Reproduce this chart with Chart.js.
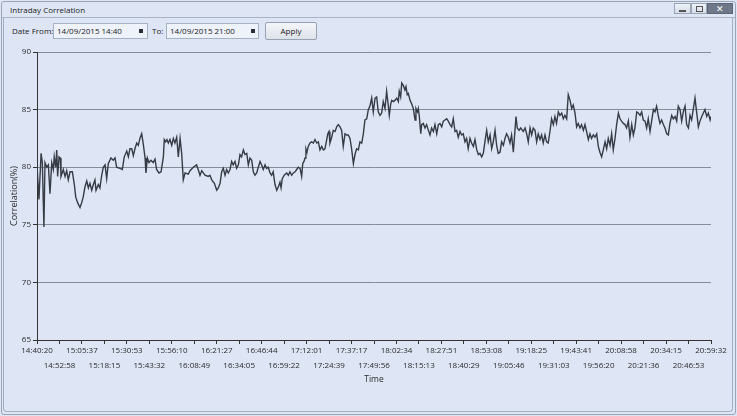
<!DOCTYPE html>
<html><head><meta charset="utf-8">
<script src="https://cdn.jsdelivr.net/npm/chart.js@4.4.1/dist/chart.umd.min.js"></script>
<style>
html,body{margin:0;padding:0;}
body{width:737px;height:416px;position:relative;overflow:hidden;background:#dee6f6;font-family:"Open Sans",sans-serif;color:#222;font-size:8px;}
.a{position:absolute;box-sizing:border-box;}
#outer{left:1px;top:1px;width:735px;height:414px;border:1px solid #9aa5b6;border-radius:3px;}
#sep{left:2px;top:17px;width:733px;height:1px;background:#a9b4c6;}
#inner{left:3px;top:18px;width:730px;height:394px;border:1px solid #a3aec0;border-top:none;border-radius:0 0 4px 4px;}
.lbl{white-space:nowrap;line-height:10px;}
.inp{background:#edf2fb;border:1px solid #a6b1c3;height:16px;}
.sq{width:4px;height:4px;background:#2a2f38;}
#apply{left:265px;top:22px;width:52px;height:18px;border:1px solid #98a3b4;border-radius:2px;background:linear-gradient(#f4f6f9,#dde2ea);text-align:center;line-height:16px;}
.wb{top:3px;height:11px;border:1px solid #9aa5b6;background:linear-gradient(#eef2f8,#d7dde7);}
</style></head><body>
<div class="a" id="outer"></div>
<div class="a" id="sep"></div>
<div class="a" id="inner"></div>
<div class="a lbl" style="left:10px;top:5px;">Intraday Correlation</div>
<div class="a wb" style="left:674px;width:17px;"><div class="a" style="left:4px;top:6px;width:7px;height:2px;background:#555;"></div></div>
<div class="a wb" style="left:691px;width:16px;"><div class="a" style="left:4px;top:2px;width:7px;height:6px;border:1px solid #555;"></div></div>
<div class="a wb" style="left:707px;width:26px;background:#6f7888;border-color:#5d6676;color:#fff;text-align:center;line-height:9px;font-size:9px;">✕</div>
<div class="a lbl" style="left:12px;top:26px;">Date From:</div>
<div class="a inp" style="left:53px;top:23px;width:95px;"></div>
<div class="a lbl" style="left:57px;top:26px;">14/09/2015 14:40</div>
<div class="a sq" style="left:139px;top:29px;"></div>
<div class="a lbl" style="left:152px;top:26px;">To:</div>
<div class="a inp" style="left:166px;top:23px;width:93px;"></div>
<div class="a lbl" style="left:170px;top:26px;">14/09/2015 21:00</div>
<div class="a sq" style="left:251px;top:29px;"></div>
<div class="a" id="apply">Apply</div>
<canvas id="c" width="737" height="416" class="a" style="left:0;top:0;"></canvas>
<script>
// minutes since 14:40:20
const timeMin = [
0.0,1.1,2.3,3.0,3.9,4.5,5.5,6.4,7.3,8.3,9.2,9.7,10.5,11.1,11.6,12.4,13.1,13.5,14.8,15.8,16.7,17.6,18.6,19.9,21.0,21.8,22.9,24.2,25.1,26.0,27.0,28.0,28.9,29.8,30.8,31.7,32.6,33.2,34.5,35.4,36.4,37.3,38.3,39.2,40.1,41.6,42.9,43.9,44.8,46.7,48.0,49.1,50.5,51.4,52.3,53.3,54.2,55.1,56.1,57.0,57.9,58.9,59.8,60.8,61.3,62.1,63.0,64.1,65.4,66.4,67.3,68.6,69.8,71.1,71.6,72.4,73.1,73.9,74.8,75.8,76.7,77.6,78.6,79.5,80.5,81.4,82.3,83.3,85.1,86.1,87.9,89.8,90.7,91.7,92.7,94.5,
96.4,97.3,98.3,99.8,101.1,102.0,103.0,103.9,104.8,105.8,106.7,107.6,108.6,109.5,110.4,111.4,112.3,113.3,114.2,115.1,116.1,117.0,118.0,118.9,119.8,120.8,121.7,122.6,123.6,124.5,125.5,126.4,127.3,128.3,129.2,130.1,131.1,132.0,132.9,133.9,134.9,135.8,136.7,137.3,138.0,139.1,140.5,141.4,142.3,143.3,144.2,145.2,146.1,147.0,148.0,148.9,149.5,150.2,150.8,151.3,151.9,152.6,153.6,154.5,155.5,156.4,157.4,158.3,159.2,160.2,161.1,162.0,163.0,163.6,164.3,164.8,165.8,166.7,167.7,168.6,169.5,170.5,171.4,172.3,173.3,174.2,175.1,176.1,177.0,178.0,178.9,179.8,180.8,181.7,182.7,183.6,184.5,185.5,186.4,187.3,
188.3,189.2,190.2,191.1,192.0,193.0,193.9,194.8,195.8,196.7,197.6,198.2,199.0,199.6,200.5,201.4,202.4,203.3,203.8,204.6,205.2,206.1,207.0,207.6,208.3,208.9,209.9,210.8,211.7,212.7,213.2,214.0,214.5,215.1,215.9,216.4,217.3,218.3,219.2,220.2,221.1,222.0,223.0,223.9,224.9,225.8,226.7,227.7,228.6,229.5,230.5,231.4,232.4,233.3,234.2,235.2,236.1,237.0,238.0,238.9,239.8,240.8,241.7,242.6,243.6,244.5,245.5,246.4,247.4,248.3,249.2,250.2,251.1,252.0,253.0,253.9,254.9,255.8,256.7,257.7,258.6,259.5,260.5,261.4,262.4,263.3,264.2,265.2,266.1,267.0,268.0,268.9,269.5,270.2,271.2,272.1,273.6,274.6,275.5,276.4,277.4,278.3,279.2,
280.2,281.1,282.0,283.0,283.9,284.8,285.8,286.7,287.6,288.6,289.5,290.5,291.4,292.3,293.3,294.2,295.2,296.1,297.0,298.0,298.9,299.9,300.8,301.7,302.7,303.6,304.5,305.5,306.4,307.4,308.3,309.2,310.2,311.1,312.0,313.0,313.9,314.9,315.8,316.7,317.7,318.6,319.6,320.5,321.4,322.4,323.3,324.2,325.2,326.1,327.1,328.0,328.9,329.9,330.8,331.7,332.7,333.6,334.6,335.5,336.4,337.4,338.3,339.3,340.2,341.1,342.1,343.0,343.9,344.9,345.8,346.8,347.7,348.6,349.6,350.5,351.4,352.4,353.3,354.3,355.2,356.1,357.1,358.0,359.0,359.9,360.8,361.8,362.7,363.6,364.6,365.5,366.5,367.4,368.3,369.3,370.2,371.1,372.1,373.0,374.0,374.9,375.8,376.8,377.7,378.7,379.2
];
const corr = [
80.2,77.2,81.2,80.4,74.8,80.4,80.0,80.2,77.7,80.4,79.8,80.9,80.0,81.5,79.2,80.9,80.8,79.2,79.8,79.2,79.7,78.9,79.6,79.6,78.5,77.4,76.9,76.5,76.9,77.4,78.3,78.8,78.2,78.6,78.0,78.5,78.9,78.0,78.5,78.2,79.3,80.0,80.2,79.0,80.3,80.8,80.6,80.8,80.0,79.9,79.8,80.9,81.4,80.9,81.6,81.6,81.0,81.6,82.1,81.9,82.5,82.9,82.0,80.8,79.5,80.8,80.4,80.6,80.4,80.7,79.8,79.5,79.6,80.9,82.4,82.2,82.4,82.1,82.4,81.9,82.5,82.1,82.6,80.9,82.5,81.2,78.9,79.5,79.4,79.7,80.0,80.2,79.8,79.3,79.7,79.3,
79.2,79.3,78.9,78.6,78.0,78.2,78.6,79.6,79.9,79.3,79.8,79.5,79.8,80.5,80.2,80.5,79.9,80.2,81.1,80.9,81.5,81.1,81.2,80.2,80.8,80.6,79.6,79.3,79.5,80.0,80.5,80.2,79.8,80.2,79.9,80.0,79.5,79.3,79.6,78.5,78.0,78.3,78.7,78.2,79.0,79.3,79.5,79.3,79.6,79.3,79.5,79.6,79.8,80.0,79.9,79.2,80.3,80.5,80.8,81.6,81.3,81.8,82.1,82.2,82.1,82.4,82.1,82.2,81.5,81.8,81.5,81.6,82.4,82.9,83.1,82.1,82.6,83.2,83.1,83.5,83.7,83.5,83.2,81.8,82.9,82.8,82.8,82.5,81.6,80.3,81.1,81.6,81.5,82.2,82.1,82.9,84.1,84.2,85.0,85.3,
86.0,84.8,86.0,86.1,84.8,84.5,84.7,85.7,85.1,86.6,85.4,84.5,85.5,85.8,85.7,85.8,86.0,85.7,86.6,86.1,87.3,87.1,86.7,87.0,86.3,86.4,85.8,85.5,85.1,84.1,85.1,84.8,85.1,84.4,82.9,83.7,83.8,83.4,83.7,83.2,82.8,83.4,83.1,83.7,82.9,83.7,83.8,83.5,84.0,84.1,84.2,84.0,83.7,83.5,84.2,83.1,83.2,82.6,83.1,82.8,82.9,82.2,82.5,81.6,82.5,82.1,81.8,82.4,81.5,81.1,81.2,80.9,81.2,82.2,83.2,82.2,82.8,81.6,82.2,83.2,81.9,81.2,81.3,82.2,81.9,82.5,82.9,82.6,82.1,82.8,81.3,83.2,84.4,83.4,83.2,83.4,83.1,83.4,82.9,82.2,83.4,82.8,83.4,
83.2,82.2,82.9,82.4,82.8,82.1,82.8,82.2,82.1,83.1,84.2,83.7,84.4,83.8,84.8,84.5,84.7,84.2,84.5,84.2,86.3,85.8,85.1,85.4,84.7,83.5,83.8,83.4,83.7,83.2,83.7,83.1,82.4,82.9,82.5,82.8,82.6,82.9,81.8,81.3,80.9,81.5,82.2,81.6,82.5,81.9,82.9,81.5,82.5,83.7,84.7,84.2,84.0,83.8,83.7,83.4,84.0,82.6,83.7,82.8,83.4,84.8,84.7,84.5,84.8,84.1,84.0,83.4,84.2,83.1,84.0,85.0,84.8,85.3,84.4,83.8,84.1,83.7,83.4,82.9,82.8,83.8,84.5,84.2,84.4,84.0,85.3,85.0,84.0,84.8,85.3,83.7,83.4,84.5,84.1,85.1,86.0,84.8,83.5,84.0,84.4,84.7,85.0,84.4,84.7,84.1,84.4
];
const xTickLabels = ["14:40:20","14:52:58","15:05:37","15:18:15","15:30:53","15:43:32","15:56:10","16:08:49","16:21:27","16:34:05","16:46:44","16:59:22","17:12:01","17:24:39","17:37:17","17:49:56","18:02:34","18:15:13","18:27:51","18:40:29","18:53:08","19:05:46","19:18:25","19:31:03","19:43:41","19:56:20","20:08:58","20:21:36","20:34:15","20:46:53","20:59:32"];
const yTicks = [65,70,75,80,85,90];
const xTitle = "Time";
const yTitle = "Correlation(%)";

const toSec = s => { const p = s.split(':').map(Number); return p[0]*3600 + p[1]*60 + p[2]; };
const t0 = toSec(xTickLabels[0]);
const tickMin = xTickLabels.map(s => (toSec(s) - t0) / 60);

const FONT = 'Open Sans';
new Chart(document.getElementById('c'), {
  type: 'line',
  data: { datasets: [{
    data: timeMin.map((t, i) => ({ x: t, y: corr[i] })),
    borderColor: '#363b45', borderWidth: 1.4, pointRadius: 0, tension: 0, fill: false
  }]},
  options: {
    responsive: false, animation: false, devicePixelRatio: 1,
    layout: { padding: { top: 52, right: 26, left: 0, bottom: 21 } },
    plugins: { legend: { display: false }, tooltip: { enabled: false } },
    scales: {
      x: {
        type: 'linear', min: tickMin[0], max: tickMin[tickMin.length - 1],
        afterBuildTicks: s => { s.ticks = tickMin.map(v => ({ value: v })); },
        afterFit: s => { s.height = 55; },
        grid: { drawOnChartArea: false, drawTicks: true, tickLength: 4, tickColor: '#333', color: '#333' },
        border: { display: true, color: '#333', width: 1 },
        ticks: {
          autoSkip: false, maxRotation: 0, minRotation: 0, padding: 0, color: '#2a2a2a',
          font: { family: FONT, size: 8, lineHeight: 1.8 },
          callback: (v, i) => (i % 2 ? ['', xTickLabels[i]] : xTickLabels[i])
        },
        title: { display: true, text: xTitle, color: '#2a2a2a', font: { family: FONT, size: 8.5 }, padding: { top: 0, bottom: 10 } }
      },
      y: {
        min: yTicks[0], max: yTicks[yTicks.length - 1],
        afterBuildTicks: s => { s.ticks = yTicks.map(v => ({ value: v })); },
        afterFit: s => { s.width = 37; },
        grid: { color: '#878d97', lineWidth: 1, drawTicks: true, tickLength: 4, tickColor: '#333' },
        border: { display: true, color: '#333', width: 1 },
        ticks: { padding: 2, color: '#2a2a2a', font: { family: FONT, size: 8 } },
        title: { display: true, text: yTitle, color: '#2a2a2a', font: { family: FONT, size: 9 }, padding: { top: 8.6, bottom: 0 } }
      }
    }
  }
});
</script>
</body></html>
